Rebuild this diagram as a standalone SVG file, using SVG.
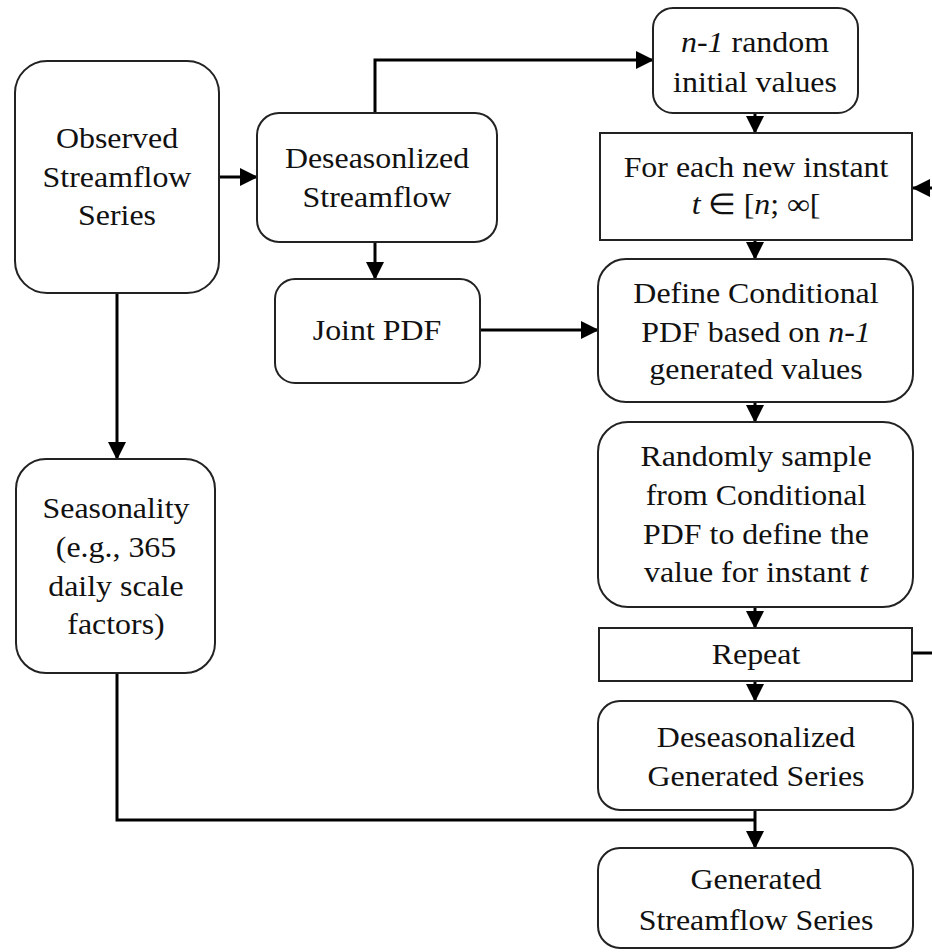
<svg xmlns="http://www.w3.org/2000/svg" width="932" height="952" viewBox="0 0 932 952">
<style>
.box{fill:#fff;stroke:#222;stroke-width:2}
.t{font-family:"Liberation Serif","Times New Roman",serif;font-size:29px;fill:#111;text-anchor:middle}
.i{font-style:italic}
.c{fill:none;stroke:#000;stroke-width:3}
</style>
<defs>
<marker id="ah" markerUnits="userSpaceOnUse" markerWidth="18" markerHeight="18" refX="17" refY="9" orient="auto">
<path d="M0,0 L18,9 L0,18 Z" fill="#000"/>
</marker>
</defs>
<rect width="932" height="952" fill="#fff"/>
<g id="connectors">
<path class="c" d="M219,177 H257" marker-end="url(#ah)"/>
<path class="c" d="M375,113 V60 H653" marker-end="url(#ah)"/>
<path class="c" d="M375,242 V279" marker-end="url(#ah)"/>
<path class="c" d="M480,330 H598" marker-end="url(#ah)"/>
<path class="c" d="M117,293 V459" marker-end="url(#ah)"/>
<path class="c" d="M755,113 V133" marker-end="url(#ah)"/>
<path class="c" d="M755,240 V259" marker-end="url(#ah)"/>
<path class="c" d="M755,402 V422" marker-end="url(#ah)"/>
<path class="c" d="M755,607 V628" marker-end="url(#ah)"/>
<path class="c" d="M755,681 V701" marker-end="url(#ah)"/>
<path class="c" d="M913,653 H936 V188 H913" marker-end="url(#ah)"/>
<path class="c" d="M117,673 V820 H755"/>
<path class="c" d="M755,810 V848" marker-end="url(#ah)"/>
</g>
<g id="observed">
<rect class="box" x="15" y="61" width="204" height="232" rx="32"/>
<text class="t" transform="translate(117 0) scale(1.1 1)"><tspan x="0" y="148">Observed</tspan><tspan x="0" y="187">Streamflow</tspan><tspan x="0" y="225">Series</tspan></text>
</g>
<g id="deseasonlized">
<rect class="box" x="257" y="113" width="240" height="129" rx="22"/>
<text class="t" transform="translate(377 0) scale(1.1 1)"><tspan x="0" y="168">Deseasonlized</tspan><tspan x="0" y="207">Streamflow</tspan></text>
</g>
<g id="joint-pdf">
<rect class="box" x="275" y="279" width="205" height="104" rx="20"/>
<text class="t" transform="translate(377 0) scale(1.1 1)"><tspan x="0" y="340">Joint PDF</tspan></text>
</g>
<g id="seasonality">
<rect class="box" x="16" y="459" width="199" height="214" rx="30"/>
<text class="t" transform="translate(116 0) scale(1.1 1)"><tspan x="0" y="518">Seasonality</tspan><tspan x="0" y="557">(e.g., 365</tspan><tspan x="0" y="596">daily scale</tspan><tspan x="0" y="634">factors)</tspan></text>
</g>
<g id="initial-values">
<rect class="box" x="653" y="8" width="205" height="105" rx="20"/>
<text class="t" transform="translate(755 0) scale(1.1 1)"><tspan x="0" y="52"><tspan class="i">n-1</tspan> random</tspan><tspan x="0" y="92">initial values</tspan></text>
</g>
<g id="for-each">
<rect class="box" x="600" y="133" width="312" height="107"/>
<text class="t" transform="translate(756 0) scale(1.1 1)"><tspan x="0" y="177">For each new instant</tspan><tspan x="0" y="214"><tspan class="i">t</tspan> ∈ [<tspan class="i">n</tspan>; ∞[</tspan></text>
</g>
<g id="define-conditional">
<rect class="box" x="598" y="259" width="315" height="143" rx="28"/>
<text class="t" transform="translate(756 0) scale(1.1 1)"><tspan x="0" y="303">Define Conditional</tspan><tspan x="0" y="342">PDF based on <tspan class="i">n-1</tspan></tspan><tspan x="0" y="379">generated values</tspan></text>
</g>
<g id="random-sample">
<rect class="box" x="598" y="422" width="315" height="185" rx="30"/>
<text class="t" transform="translate(756 0) scale(1.1 1)"><tspan x="0" y="466">Randomly sample</tspan><tspan x="0" y="505">from Conditional</tspan><tspan x="0" y="544">PDF to define the</tspan><tspan x="0" y="582">value for instant <tspan class="i">t</tspan></tspan></text>
</g>
<g id="repeat">
<rect class="box" x="599" y="628" width="313" height="53"/>
<text class="t" transform="translate(756 0) scale(1.1 1)"><tspan x="0" y="664">Repeat</tspan></text>
</g>
<g id="deseasonalized-generated">
<rect class="box" x="598" y="701" width="315" height="109" rx="22"/>
<text class="t" transform="translate(756 0) scale(1.1 1)"><tspan x="0" y="747">Deseasonalized</tspan><tspan x="0" y="786">Generated Series</tspan></text>
</g>
<g id="generated-streamflow">
<rect class="box" x="598" y="848" width="315" height="100" rx="22"/>
<text class="t" transform="translate(756 0) scale(1.1 1)"><tspan x="0" y="889">Generated</tspan><tspan x="0" y="930">Streamflow Series</tspan></text>
</g>
</svg>
